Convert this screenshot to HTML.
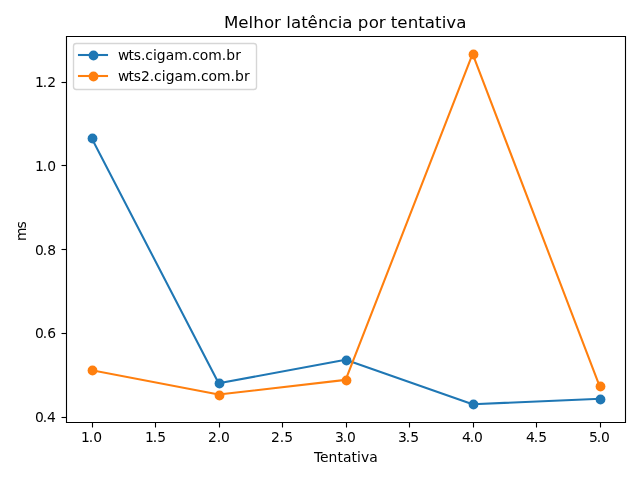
<!DOCTYPE html>
<html lang="pt-BR">
<head>
<meta charset="utf-8">
<title>Melhor latência por tentativa</title>
<style>
html,body{margin:0;padding:0;background:#fff;overflow:hidden}
svg{display:block}
text{font-family:"DejaVu Sans","Liberation Sans",sans-serif;fill:#000;white-space:pre}
.t{font-size:13.889px}
.ti{font-size:16.667px}
.sp{stroke:#000;stroke-width:1.111;fill:none;stroke-linecap:butt}
.ln{fill:none;stroke-width:2.083;stroke-linejoin:round;stroke-linecap:square}
</style>
</head>
<body>

<svg width="640" height="480" viewBox="0 0 640 480">
<rect x="0" y="0" width="640" height="480" fill="#fff"/>
<polyline class="ln" stroke="#1f77b4" points="91.67,138.14 218.66,383.26 345.64,359.79 472.62,404.21 599.60,398.76"/>
<g fill="#1f77b4"><circle cx="92.5" cy="138.5" r="4.9"/><circle cx="219.5" cy="383.5" r="4.9"/><circle cx="346.5" cy="360.5" r="4.9"/><circle cx="473.5" cy="404.5" r="4.9"/><circle cx="600.5" cy="399.5" r="4.9"/></g>
<polyline class="ln" stroke="#ff7f0e" points="91.67,370.27 218.66,394.57 345.64,379.90 472.62,53.91 599.60,386.19"/>
<g fill="#ff7f0e"><circle cx="92.5" cy="370.5" r="4.9"/><circle cx="219.5" cy="395.5" r="4.9"/><circle cx="346.5" cy="380.5" r="4.9"/><circle cx="473.5" cy="54.5" r="4.9"/><circle cx="600.5" cy="386.5" r="4.9"/></g>
<g class="sp">
<line x1="92.5" y1="423" x2="92.5" y2="427.5"/>
<line x1="155.5" y1="423" x2="155.5" y2="427.5"/>
<line x1="219.5" y1="423" x2="219.5" y2="427.5"/>
<line x1="282.5" y1="423" x2="282.5" y2="427.5"/>
<line x1="346.5" y1="423" x2="346.5" y2="427.5"/>
<line x1="409.5" y1="423" x2="409.5" y2="427.5"/>
<line x1="473.5" y1="423" x2="473.5" y2="427.5"/>
<line x1="536.5" y1="423" x2="536.5" y2="427.5"/>
<line x1="600.5" y1="423" x2="600.5" y2="427.5"/>
<line x1="61.5" y1="417.5" x2="66" y2="417.5"/>
<line x1="61.5" y1="333.5" x2="66" y2="333.5"/>
<line x1="61.5" y1="249.5" x2="66" y2="249.5"/>
<line x1="61.5" y1="165.5" x2="66" y2="165.5"/>
<line x1="61.5" y1="82.5" x2="66" y2="82.5"/>
</g>
<path class="sp" stroke-linecap="square" d="M66.5 36.5H625.5V422.5H66.5Z"/>
<text id="xt0" class="t" x="81 88.75 93.25" y="442">1.0</text>
<text id="xt1" class="t" x="145 152.75 157.25" y="442">1.5</text>
<text id="xt2" class="t" x="208 216.75 221" y="442">2.0</text>
<text id="xt3" class="t" x="271 279.75 284.25" y="442">2.5</text>
<text id="xt4" class="t" x="335 342.75 347" y="442">3.0</text>
<text id="xt5" class="t" x="398 405.75 410.25" y="442">3.5</text>
<text id="xt6" class="t" x="462 469.75 474" y="442">4.0</text>
<text id="xt7" class="t" x="526 533.75 538.25" y="442">4.5</text>
<text id="xt8" class="t" x="589 596.75 601" y="442">5.0</text>
<text id="yt0" class="t" x="35 42.75 47" y="422">0.4</text>
<text id="yt1" class="t" x="35 42.75 47.25" y="338">0.6</text>
<text id="yt2" class="t" x="35 42.75 47.25" y="255">0.8</text>
<text id="yt3" class="t" x="35 42.75 47.25" y="171">1.0</text>
<text id="yt4" class="t" x="35 42.75 47.25" y="87">1.2</text>
<text id="xl" class="t" x="314 320 328.5 337.5 343 351.5 357 361 369.25" y="462">Tentativa</text>
<text id="yl" class="t" transform="translate(25.5 230.75) rotate(-90)" x="-10.25 2.25" y="0">ms</text>
<text id="ti" class="ti" x="224 238.25 248.5 253.25 264 274 280.75 286.25 291 301.25 307.5 318 328.5 337.75 342.25 352.25 357.75 368.75 378.75 385.25 390.75 397.25 407.75 418.25 424.75 435 441.75 446.25 456.25" y="28">Melhor latência por tentativa</text>
<rect x="73.5" y="43.5" width="183" height="46" rx="2.78" ry="2.78" fill="#fff" fill-opacity="0.8" stroke="#ccc" stroke-opacity="0.8" stroke-width="1.389"/>
<rect fill="#1f77b4" x="77.96" y="53.96" width="30.08" height="2.08"/><rect fill="#ff7f0e" x="77.96" y="74.96" width="30.08" height="2.08"/>
<circle fill="#1f77b4" cx="93.5" cy="55.5" r="4.9"/>
<circle fill="#ff7f0e" cx="93.5" cy="76.5" r="4.9"/>
<text id="l1" class="t" x="118 128.5 133.75 141 145.25 153 156.75 165.75 174.25 187.75 192.25 199.75 208.25 221.75 226.25 235.25" y="60">wts.cigam.com.br</text>
<text id="l2" class="t" x="118 128.5 133.75 141 149.75 154 161.75 165.75 174.5 183 196.5 201 208.5 217 230.5 235 244" y="81">wts2.cigam.com.br</text>
</svg>
</body>
</html>
